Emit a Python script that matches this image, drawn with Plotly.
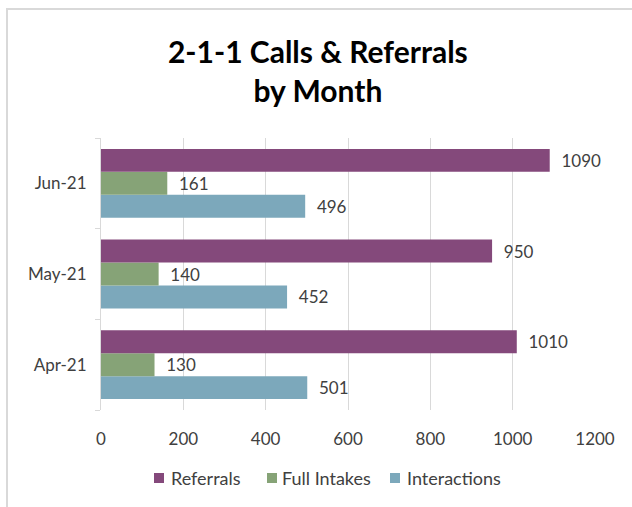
import plotly.graph_objects as go

months = ["Apr-21", "May-21", "Jun-21"]
referrals = [1010, 950, 1090]
full_intakes = [130, 140, 161]
interactions = [501, 452, 496]

series_names = ["Referrals", "Full Intakes", "Interactions"]
series_values = [referrals, full_intakes, interactions]
series_colors = ["#84497b", "#86a377", "#7ca8bb"]

FONT = "Lato, Carlito, Calibri, sans-serif"
TXT = "#404040"

W, H = 632, 507
L, R, T, B = 101, 37, 138, 97
PW, PH = W - L - R, H - T - B


def px_x(p):
    return (p - L) / PW


def px_y(p):
    return (H - B - p) / PH


fig = go.Figure()
# plotly draws the first trace of a horizontal group at the bottom,
# so add them reversed to put Referrals on top
for name, vals, col in reversed(list(zip(series_names, series_values, series_colors))):
    fig.add_trace(go.Bar(
        y=months, x=vals, name=name, orientation="h",
        marker=dict(color=col, line=dict(width=0)),
        text=vals, texttemplate="  %{x}", textposition="outside",
        textfont=dict(family=FONT, size=17, color=TXT),
        cliponaxis=False, showlegend=False,
    ))

# custom legend (compact, like the original)
legend_marker_px = [154, 267, 390]
legend_text_px = [169, 280, 405]
legend_y_px = 478
shapes = [dict(
    type="rect", xref="paper", yref="paper",
    x0=px_x(7), x1=px_x(645), y0=px_y(520), y1=px_y(9),
    line=dict(color="#d9d9d9", width=2), layer="below",
)]
annotations = []
for name, col, mx, tx in zip(series_names, series_colors, legend_marker_px, legend_text_px):
    shapes.append(dict(
        type="rect", xref="paper", yref="paper",
        x0=px_x(mx), x1=px_x(mx + 10),
        y0=px_y(legend_y_px + 5), y1=px_y(legend_y_px - 5),
        fillcolor=col, line=dict(width=0),
    ))
    annotations.append(dict(
        text=name, xref="paper", yref="paper", x=px_x(tx), y=px_y(legend_y_px),
        xanchor="left", yanchor="middle", showarrow=False,
        font=dict(family=FONT, size=18, color=TXT),
    ))

fig.update_layout(
    width=W, height=H,
    paper_bgcolor="white", plot_bgcolor="white",
    barmode="group", bargap=0.24, bargroupgap=0,
    margin=dict(l=L, r=R, t=T, b=B),
    title=dict(
        text="<b>2-1-1 Calls & Referrals<br>by Month</b>",
        x=0.503, xanchor="center", y=0.876, yanchor="middle",
        font=dict(family=FONT, size=30, color="#000000"),
    ),
    font=dict(family=FONT, size=17, color=TXT),
    showlegend=False,
    shapes=shapes,
    annotations=annotations,
)

fig.update_xaxes(
    range=[0, 1200], dtick=200, showgrid=True, gridcolor="#d9d9d9", gridwidth=1,
    zeroline=False, showline=False, ticks="", ticklabelstandoff=17,
    tickfont=dict(family=FONT, size=17, color=TXT), fixedrange=True,
)
fig.update_yaxes(
    categoryorder="array", categoryarray=months,
    showline=True, linecolor="#d9d9d9", linewidth=1,
    ticks="outside", tickson="boundaries", ticklen=5, tickcolor="#d9d9d9",
    ticklabelstandoff=10, showgrid=False,
    tickfont=dict(family=FONT, size=17, color=TXT), fixedrange=True,
)

fig.write_html(
    "out.html",
    config={"displayModeBar": False},
    post_script="document.body.style.margin='0';document.body.style.overflow='hidden';",
)
